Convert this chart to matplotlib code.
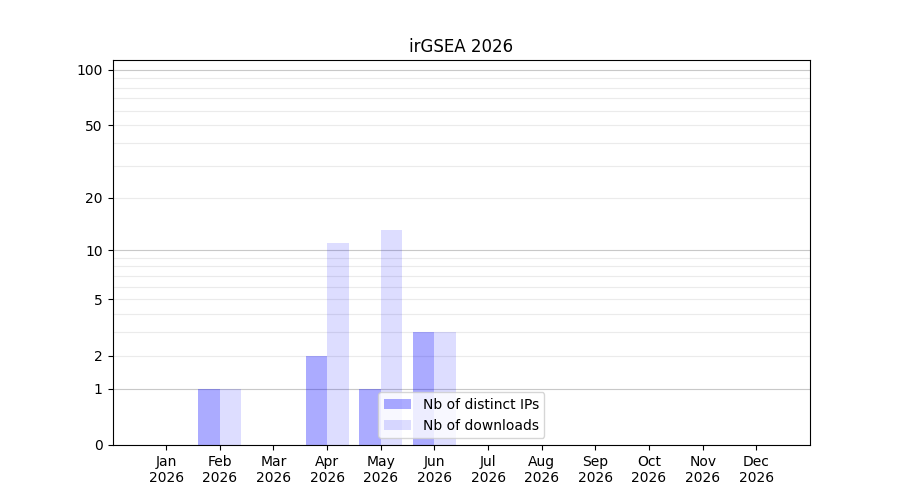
import numpy as np
import matplotlib
matplotlib.use("Agg")
import matplotlib.pyplot as plt

months = ["Jan", "Feb", "Mar", "Apr", "May", "Jun", "Jul", "Aug", "Sep", "Oct", "Nov", "Dec"]
year = "2026"
ips = [0, 1, 0, 2, 1, 3, 0, 0, 0, 0, 0, 0]
downloads = [0, 1, 0, 11, 13, 3, 0, 0, 0, 0, 0, 0]

def fwd(y):
    return np.log10(1 + np.asarray(y, dtype=float))

def inv(y):
    return 10 ** np.asarray(y, dtype=float) - 1

fig, ax = plt.subplots(figsize=(9, 5), dpi=100)
x = np.arange(len(months))
ax.bar(x - 0.2, ips, width=0.4, color="blue", alpha=0.33, linewidth=0, label="Nb of distinct IPs")
ax.bar(x + 0.2, downloads, width=0.4, color="blue", alpha=0.135, linewidth=0, label="Nb of downloads")

ax.set_yscale("function", functions=(fwd, inv))
ax.set_ylim(0, 113)
ax.set_xlim(-1, 12)
ax.set_yticks([0, 1, 2, 5, 10, 20, 50, 100])
ax.set_yticklabels(["0", "1", "2", "5", "10", "20", "50", "100"])
ax.set_yticks([3, 4, 6, 7, 8, 9, 30, 40, 60, 70, 80, 90], minor=True)
ax.tick_params(axis="y", which="minor", length=0)
ax.yaxis.grid(True, which="both", color="#ebebeb", linewidth=0.8)
for val, gl in zip([0, 1, 2, 5, 10, 20, 50, 100], ax.yaxis.get_gridlines()):
    if val in (1, 10, 100):
        gl.set_color("#c8c8c8")
ax.set_axisbelow(True)

ax.set_xticks(x)
ax.set_xticklabels([m + "\n" + year for m in months])
ax.set_title("irGSEA " + year)
ax.legend(loc="lower center")

fig.savefig("out.png")
